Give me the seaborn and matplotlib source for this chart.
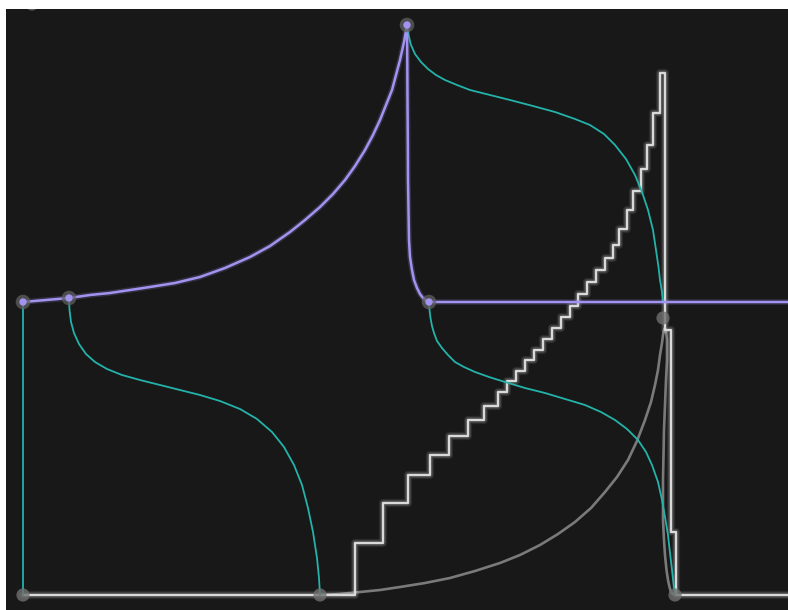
import matplotlib
matplotlib.use("Agg")
import matplotlib.pyplot as plt
import matplotlib.patheffects as pe
import numpy as np
import pandas as pd
import seaborn as sns

# ---- data (time units, level units) ----
env_t = [0, 46, 67, 87, 107, 127, 152, 177, 202, 227, 247, 267, 282, 297, 310, 322,
         332, 342, 350, 357, 363, 369, 373, 377, 381, 384,
         384.3, 384.5, 384.8, 385, 385.5, 386, 387, 389, 391, 394, 397, 400, 403, 406, 765]
env_v = [293, 297, 300, 302, 305, 308, 312, 318, 327, 338, 349, 363, 375, 388, 401, 415,
         429, 445, 460, 475, 490, 505, 520, 535, 553, 570,
         530, 495, 455, 415, 385, 355, 338, 325, 315, 307, 301, 297, 294.5, 293, 293]

curve0_t = [0, 0]
curve0_v = [293, 0]
curve1_t = [46, 46.5, 48, 51, 56, 63, 72, 84, 99, 117, 137, 157, 177, 197, 217, 234,
            249, 261, 271, 279, 285, 290, 294, 296, 297]
curve1_v = [297, 285, 273, 262, 251, 241, 233, 226, 220, 215, 210, 205, 200, 194, 186, 176,
            163, 148, 130, 110, 87, 63, 37, 17, 0]
curve2_t = [384, 385.5, 388, 392, 398, 405, 413, 422, 434, 447, 467, 487, 510, 532, 552,
            567, 581, 592, 603, 612, 619, 625, 630, 633, 635.5, 637, 639, 640]
curve2_v = [570, 560, 550, 541, 533, 526, 520, 515, 510, 505, 500, 495, 489, 483, 476,
            470, 461, 450, 436, 420, 403, 385, 365, 345, 328, 315, 303, 293]
curve3_t = [406, 406.5, 407.5, 409, 411, 414, 419, 425, 432, 441, 452, 466, 482, 502, 522,
            542, 562, 578, 592, 604, 615, 623, 629, 635, 639, 642, 645, 647, 649, 650.5, 652]
curve3_v = [293, 285, 277, 269, 262, 254, 247, 240, 233, 228, 223, 218, 213, 207, 202,
            196, 190, 183, 175, 166, 155, 143, 130, 113, 95, 78, 60, 42, 25, 12, 0]

smooth_t = [297, 317, 337, 357, 377, 402, 427, 452, 477, 497, 517, 535, 552, 568, 582,
            594, 605, 614, 622, 628, 632, 635, 637, 639, 640, 641, 642, 643, 644, 644,
            643, 642, 641, 640.5, 640, 640, 640, 641, 642, 643.5, 645, 646.5, 648, 650, 652]
smooth_v = [0, 1, 3, 5, 8, 12, 17, 24, 32, 40, 50, 61, 73, 87, 103,
            118, 135, 154, 175, 193, 210, 225, 240, 252, 260, 265, 267, 264, 255, 235,
            215, 190, 165, 140, 115, 95, 75, 55, 40, 25, 15, 8, 3, 1, 0]

step_t = [0, 332, 360, 385, 407, 426, 445, 461, 475, 484, 493, 502, 511, 520, 529,
          538, 547, 555, 564, 573, 582, 590, 596, 604, 610, 618, 624, 630, 637,
          642, 648, 653, 765]
step_v = [0, 52, 92, 120, 140, 159, 175, 189, 203, 214, 224, 235, 245, 256, 267,
          278, 289, 301, 313, 325, 337, 350, 366, 385, 404, 426, 450, 482, 522,
          265, 63, 0, 0]

purple_pts_t = [0, 46, 384, 406]
purple_pts_v = [293, 297, 570, 293]
grey_pts_t = [0, 297, 640, 652, 9]
grey_pts_v = [0, 0, 277, 0, 591]

# ---- style ----
BG = "#181818"
PURPLE = "#a393f0"
TEAL = "#23b3aa"
STEP = "#d9d9d9"
SMOOTH = "#8c8c8c"

sns.set_theme(style="dark")
fig = plt.figure(figsize=(7.88, 6.10), dpi=100, facecolor="white")
ax = fig.add_axes([6 / 788, 0, 782 / 788, 601 / 610])
ax.set_facecolor(BG)

glow = [pe.Stroke(linewidth=6, foreground="white", alpha=0.08),
        pe.Stroke(linewidth=4, foreground="white", alpha=0.14),
        pe.Normal()]
pglow = [pe.Stroke(linewidth=4, foreground=PURPLE, alpha=0.2), pe.Normal()]

def line(t, v, color, lw, effects=None, alpha=1.0, drawstyle=None):
    df = pd.DataFrame({"t": t, "v": v})
    kw = {}
    if drawstyle:
        kw["drawstyle"] = drawstyle
    before = len(ax.lines)
    sns.lineplot(data=df, x="t", y="v", sort=False, estimator=None, ax=ax,
                 color=color, linewidth=lw, alpha=alpha, **kw)
    for ln in ax.lines[before:]:
        ln.set_solid_joinstyle("round")
        ln.set_solid_capstyle("round")
        if effects:
            ln.set_path_effects(effects)

# smooth grey curve
line(smooth_t, smooth_v, SMOOTH, 1.9, alpha=0.85)
# stair line
line(step_t, step_v, STEP, 1.7, effects=glow, drawstyle="steps-post")
# teal curves
for t, v in [(curve0_t, curve0_v), (curve1_t, curve1_v),
             (curve2_t, curve2_v), (curve3_t, curve3_v)]:
    line(t, v, TEAL, 1.3)
# envelope
line(env_t, env_v, PURPLE, 1.8, effects=pglow)

# markers
sns.scatterplot(x=grey_pts_t, y=grey_pts_v, ax=ax, s=90, color="#707070",
                alpha=0.8, edgecolor="none", zorder=5)
sns.scatterplot(x=purple_pts_t, y=purple_pts_v, ax=ax, s=110, color="#606060",
                alpha=0.75, edgecolor="none", zorder=5)
sns.scatterplot(x=purple_pts_t, y=purple_pts_v, ax=ax, s=28, color=PURPLE,
                edgecolor="none", zorder=6)

ax.set_xlim(-17, 765)
ax.set_ylim(-15, 586)
ax.set_xlabel("")
ax.set_ylabel("")
ax.set_xticks([])
ax.set_yticks([])
for s in ax.spines.values():
    s.set_visible(False)
ax.grid(False)

fig.savefig("out.png", dpi=100, facecolor="white")
